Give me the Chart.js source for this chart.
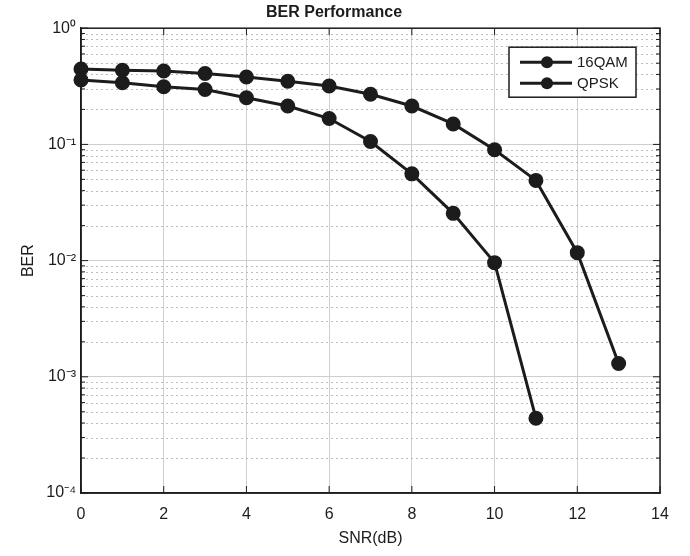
<!DOCTYPE html>
<html>
<head>
<meta charset="utf-8">
<script src="https://cdn.jsdelivr.net/npm/chart.js@4"></script>
<style>
  html, body { margin: 0; padding: 0; background: #fff; }
</style>
</head>
<body>
<canvas id="ber" width="690" height="556"></canvas>
<script>
// SNR points and BER values
const snr16qam = [0, 1, 2, 3, 4, 5, 6, 7, 8, 9, 10, 11, 12, 13];
const ber16qam = [0.445, 0.435, 0.428, 0.408, 0.38, 0.35, 0.318, 0.27, 0.214, 0.15, 0.09, 0.049, 0.0117, 0.0013];
const snrQpsk = [0, 1, 2, 3, 4, 5, 6, 7, 8, 9, 10, 11];
const berQpsk = [0.358, 0.339, 0.313, 0.297, 0.252, 0.214, 0.167, 0.106, 0.0558, 0.0255, 0.0096, 0.00044];
const seriesNames = ['16QAM', 'QPSK'];
const xTicks = [0, 2, 4, 6, 8, 10, 12, 14];
const yDecades = [-4, -3, -2, -1, 0];

const ink = '#1c1c1c';
const supers = { '0': '\u2070', '1': '\u00b9', '2': '\u00b2', '3': '\u00b3', '4': '\u2074', '-': '\u207b' };
const sup = s => String(s).split('').map(c => supers[c]).join('');

function pts(xs, ys) {
  return xs.map((x, i) => ({ x: x, y: ys[i] }));
}

// minor dotted grid + box + inward tick marks, matlab style
const boxPlugin = {
  id: 'box',
  beforeDatasetsDraw(chart) {
    const { ctx, chartArea: a, scales: { y } } = chart;
    ctx.save();
    ctx.strokeStyle = '#bdbdbd';
    ctx.lineWidth = 1;
    ctx.setLineDash([2, 3]);
    y.ticks.forEach(t => {
      const e = Math.log10(t.value);
      if (Math.abs(e - Math.round(e)) < 1e-9) return;
      const py = Math.round(y.getPixelForValue(t.value)) + 0.5;
      ctx.beginPath();
      ctx.moveTo(a.left, py);
      ctx.lineTo(a.right, py);
      ctx.stroke();
    });
    ctx.restore();
  },
  afterDraw(chart) {
    const { ctx, chartArea: a, scales: { x, y } } = chart;
    ctx.save();
    ctx.strokeStyle = ink;
    ctx.lineWidth = 1.5;
    ctx.strokeRect(a.left, a.top, a.right - a.left, a.bottom - a.top);
    ctx.lineWidth = 1;
    y.ticks.forEach(t => {
      const e = Math.log10(t.value);
      const len = Math.abs(e - Math.round(e)) < 1e-9 ? 7 : 4;
      const py = y.getPixelForValue(t.value);
      ctx.beginPath();
      ctx.moveTo(a.left, py); ctx.lineTo(a.left + len, py);
      ctx.moveTo(a.right, py); ctx.lineTo(a.right - len, py);
      ctx.stroke();
    });
    x.ticks.forEach(t => {
      const px = x.getPixelForValue(t.value);
      ctx.beginPath();
      ctx.moveTo(px, a.bottom); ctx.lineTo(px, a.bottom - 7);
      ctx.moveTo(px, a.top); ctx.lineTo(px, a.top + 7);
      ctx.stroke();
    });
    ctx.restore();
  }
};

// legend box inside the plot, upper right
const legendPlugin = {
  id: 'innerLegend',
  afterDraw(chart) {
    const { ctx, chartArea: a } = chart;
    const bx = a.right - 151, by = a.top + 19, bw = 127, bh = 50;
    ctx.save();
    ctx.fillStyle = '#fff';
    ctx.fillRect(bx, by, bw, bh);
    ctx.strokeStyle = ink;
    ctx.lineWidth = 1.5;
    ctx.strokeRect(bx, by, bw, bh);
    ctx.font = '15px "Liberation Sans", Arial, sans-serif';
    ctx.textBaseline = 'middle';
    chart.data.datasets.forEach((ds, i) => {
      const ly = by + 15 + i * 21;
      ctx.strokeStyle = ds.borderColor;
      ctx.lineWidth = 3;
      ctx.beginPath();
      ctx.moveTo(bx + 11, ly);
      ctx.lineTo(bx + 63, ly);
      ctx.stroke();
      ctx.fillStyle = ds.pointBackgroundColor;
      ctx.beginPath();
      ctx.arc(bx + 38, ly, 6, 0, Math.PI * 2);
      ctx.fill();
      ctx.fillStyle = ink;
      ctx.fillText(ds.label, bx + 68, ly + 1);
    });
    ctx.restore();
  }
};

const lineStyle = {
  borderColor: ink,
  backgroundColor: ink,
  pointBackgroundColor: ink,
  pointBorderColor: ink,
  borderWidth: 3,
  pointRadius: 6,
  pointStyle: 'circle',
  showLine: true,
  clip: false
};

new Chart(document.getElementById('ber'), {
  type: 'scatter',
  data: {
    datasets: [
      Object.assign({ label: seriesNames[0], data: pts(snr16qam, ber16qam) }, lineStyle),
      Object.assign({ label: seriesNames[1], data: pts(snrQpsk, berQpsk) }, lineStyle)
    ]
  },
  options: {
    responsive: false,
    devicePixelRatio: 1,
    animation: false,
    layout: { padding: { left: 8, right: 30, top: 0, bottom: 2 } },
    plugins: {
      legend: { display: false },
      tooltip: { enabled: false },
      title: {
        display: true,
        text: 'BER Performance',
        color: ink,
        font: { family: '"Liberation Sans", Arial, sans-serif', size: 16, weight: 'bold' },
        padding: { top: 3, bottom: 6 }
      }
    },
    scales: {
      x: {
        type: 'linear',
        min: 0,
        max: 14,
        afterBuildTicks: s => { s.ticks = xTicks.map(v => ({ value: v })); },
        afterFit: s => { s.height = 61; },
        ticks: {
          color: ink,
          padding: 12,
          font: { family: '"Liberation Sans", Arial, sans-serif', size: 16 }
        },
        grid: { color: '#cfcfcf', drawTicks: false },
        border: { color: ink, width: 1.5 },
        title: {
          display: true,
          text: 'SNR(dB)',
          color: ink,
          font: { family: '"Liberation Sans", Arial, sans-serif', size: 16 },
          padding: { top: 0, bottom: 6 }
        }
      },
      y: {
        type: 'logarithmic',
        min: 1e-4,
        max: 1,
        afterBuildTicks: s => {
          const list = [];
          yDecades.forEach(d => {
            for (let k = 1; k <= 9; k++) {
              if (d === 0 && k > 1) break;
              list.push({ value: k * Math.pow(10, d) });
            }
          });
          s.ticks = list;
        },
        afterFit: s => { s.width = 73; },
        ticks: {
          autoSkip: false,
          color: ink,
          padding: 5,
          font: { family: '"Liberation Sans", Arial, sans-serif', size: 16 },
          callback: v => {
            const e = Math.log10(v);
            return Math.abs(e - Math.round(e)) < 1e-9 ? '10' + sup(Math.round(e)) : '';
          }
        },
        grid: {
          drawTicks: false,
          color: c => {
            const e = Math.log10(c.tick.value);
            return Math.abs(e - Math.round(e)) < 1e-9 ? '#cfcfcf' : 'rgba(0,0,0,0)';
          }
        },
        border: { color: ink, width: 1.5 },
        title: {
          display: true,
          text: 'BER',
          color: ink,
          font: { family: '"Liberation Sans", Arial, sans-serif', size: 16 },
          padding: { top: 11, bottom: 0 }
        }
      }
    }
  },
  plugins: [boxPlugin, legendPlugin]
});
</script>
</body>
</html>
